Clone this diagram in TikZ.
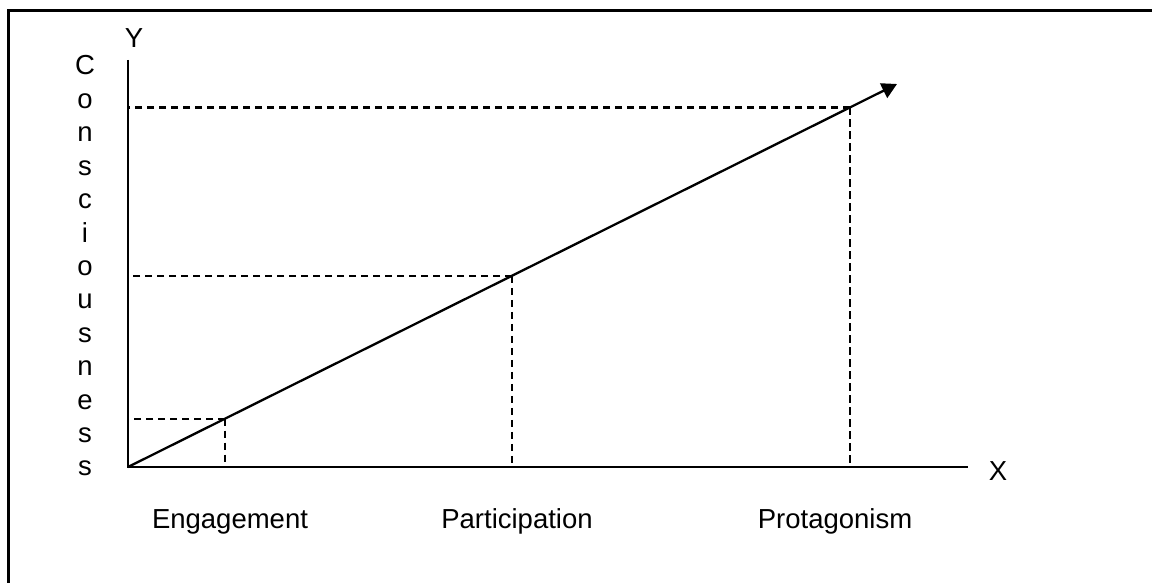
\documentclass[tikz,border=0pt]{standalone}
\usepackage{fontspec}
\setmainfont{Liberation Sans}
\usetikzlibrary{arrows.meta}
\begin{document}
\begin{tikzpicture}[x=1pt,y=-1pt,
  lbl/.style={inner sep=0pt, anchor=base, font=\fontsize{27.5}{33}\selectfont},
  axisline/.style={line width=2.3pt, line join=miter},
  guide/.style={line width=2.3pt, dash pattern=on 7.5pt off 4.5pt},
  framestyle/.style={line width=2.5pt}]
\useasboundingbox (0,0) rectangle (1152,583);
% frame
\coordinate (fb) at (8.5,583);
\coordinate (ftl) at (8.5,10.5);
\coordinate (ftr) at (1152,10.5);
\draw[framestyle] (fb) -- (ftl) -- (ftr);
% axes
\coordinate (O) at (128,467);
\coordinate (ytop) at (128,60);
\coordinate (xend) at (968,467);
\draw[axisline] (ytop) -- (O) -- (xend);
% diagonal
\coordinate (tip) at (897,84);
\draw[line width=2.3pt, -{Triangle[length=15pt,width=16pt]}] (O) -- (tip);
% guide points
\coordinate (pE) at (225,418.7);
\coordinate (pP) at (512,275.8);
\coordinate (pR) at (850,107.4);
\foreach \p in {pE,pP,pR}{
  \draw[guide] (\p) -- (O |- \p);
  \draw[guide] (\p) -- (\p |- O);
}
% axis labels
\node[lbl] (ylab) at (134,48) {Y};
\node[lbl] (xlab) at (998,480) {X};
\foreach \c [count=\i from 0] in {C,o,n,s,c,i,o,u,s,n,e,s,s}
  \node[lbl] (c\i) at (85,75+33.4*\i) {\c};
% category labels
\node[lbl] (lE) at (230,528) {Engagement};
\node[lbl] (lP) at (517,528) {Participation};
\node[lbl] (lR) at (835,528) {Protagonism};
\end{tikzpicture}
\end{document}
